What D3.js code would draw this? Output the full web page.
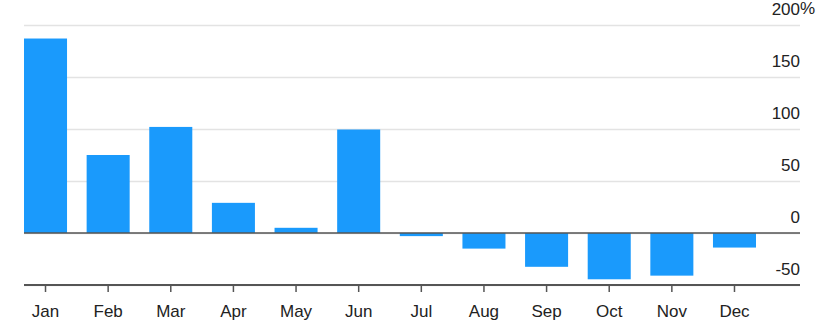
<!DOCTYPE html>
<html>
<head>
<meta charset="utf-8">
<script src="https://cdn.jsdelivr.net/npm/d3@7"></script>
<style>
  body { margin: 0; background: #fff; }
  text { font-family: "Liberation Sans", Arial, Helvetica, sans-serif; fill: #222; }
</style>
</head>
<body>
<div id="vis"></div>
<script>
// data
const MONTHS = ['Jan', 'Feb', 'Mar', 'Apr', 'May', 'Jun', 'Jul', 'Aug', 'Sep', 'Oct', 'Nov', 'Dec'];
const CHANGE = [187, 75, 102, 29, 5, 99.5, -3, -15, -32.5, -44.5, -41, -14];
const Y_TICKS = [-50, 0, 50, 100, 150, 200];

// setting up the basics
const FRAME_WIDTH = 827;
const FRAME_HEIGHT = 329;
const PLOT = {left: 24, right: 800, top: 25, bottom: 285};
const LABEL_LIFT = 11;

const FRAME = d3.select('#vis')
    .append('svg')
        .attr('width', FRAME_WIDTH)
        .attr('height', FRAME_HEIGHT);

const X_SCALE = d3.scaleBand()
    .domain(MONTHS)
    .range([PLOT.left, 756])
    .paddingInner(0.313)
    .paddingOuter(0);

const Y_SCALE = d3.scaleLinear()
    .domain([-50, 200])
    .range([PLOT.bottom, PLOT.top]);

// gridlines
const grid = FRAME.append('g')
    .attr('transform', 'translate(' + PLOT.right + ',0)')
    .call(d3.axisLeft(Y_SCALE).tickValues(Y_TICKS).tickSize(PLOT.right - PLOT.left).tickFormat(''));
grid.select('.domain').remove();
grid.selectAll('line').attr('stroke', '#e3e3e3').attr('stroke-width', 1.5);

// y labels, sitting above their lines (plain hyphen for the minus)
const yAxis = FRAME.append('g')
    .attr('transform', 'translate(' + PLOT.right + ',0)')
    .call(d3.axisRight(Y_SCALE).tickValues(Y_TICKS).tickSize(0).tickFormat((d) => String(d)));
yAxis.select('.domain').remove();
yAxis.selectAll('text')
    .attr('x', 0)
    .attr('dy', -LABEL_LIFT)
    .attr('text-anchor', 'end')
    .attr('font-size', '17px')
    .attr('fill', '#222');
// unit sign hangs past the right edge of the top label
FRAME.append('text')
    .attr('x', PLOT.right)
    .attr('y', Y_SCALE(200) - LABEL_LIFT)
    .attr('font-size', '17px')
    .text('%');

// bars
FRAME.selectAll('.bar')
    .data(CHANGE)
    .enter()
    .append('rect')
    .attr('class', 'bar')
    .attr('x', (d, i) => X_SCALE(MONTHS[i]))
    .attr('width', X_SCALE.bandwidth())
    .attr('y', (d) => Y_SCALE(Math.max(0, d)))
    .attr('height', (d) => Math.abs(Y_SCALE(d) - Y_SCALE(0)))
    .attr('fill', '#1a9afc');

// zero line
FRAME.append('line')
    .attr('x1', PLOT.left).attr('x2', PLOT.right)
    .attr('y1', Y_SCALE(0)).attr('y2', Y_SCALE(0))
    .attr('stroke', '#555')
    .attr('stroke-width', 1.5);

// x axis
const xAxis = FRAME.append('g')
    .attr('transform', 'translate(0,' + PLOT.bottom + ')')
    .call(d3.axisBottom(X_SCALE).tickSize(7).tickSizeOuter(0));
xAxis.select('.domain').remove();
xAxis.append('line')
    .attr('x1', PLOT.left).attr('x2', PLOT.right)
    .attr('stroke', '#555')
    .attr('stroke-width', 2);
xAxis.selectAll('.tick line').attr('stroke', '#555').attr('stroke-width', 1.5);
xAxis.selectAll('text')
    .attr('y', 32)
    .attr('dy', 0)
    .attr('font-size', '17px')
    .attr('fill', '#222');
</script>
</body>
</html>
